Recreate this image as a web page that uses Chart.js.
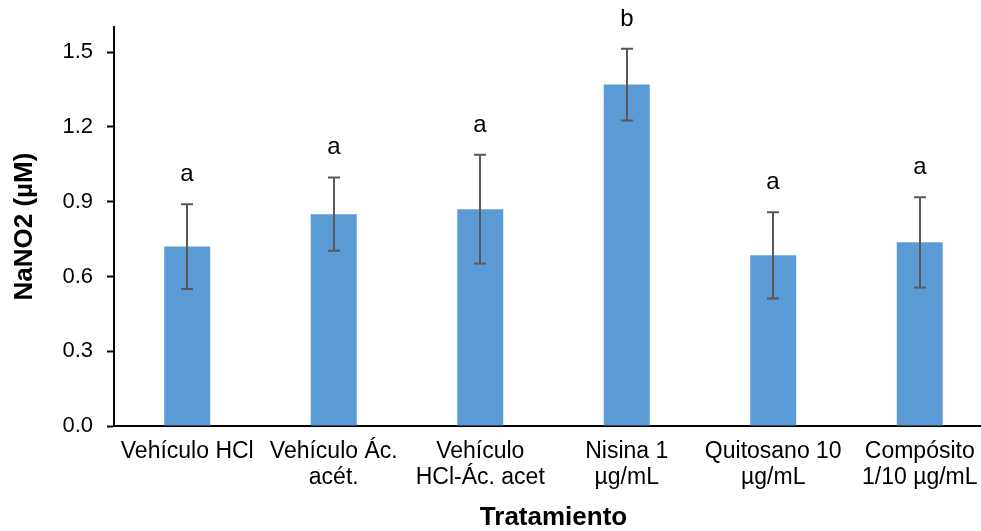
<!DOCTYPE html>
<html>
<head>
<meta charset="utf-8">
<script src="https://cdn.jsdelivr.net/npm/chart.js@4.4.1/dist/chart.umd.min.js"></script>
<style>
  html, body { margin: 0; padding: 0; background: #ffffff; overflow: hidden; width: 981px; height: 531px; }
  #wrap { position: absolute; left: 0; top: 0; width: 1000px; height: 531px; }
</style>
</head>
<body>
<div id="wrap"><canvas id="c" width="1000" height="531"></canvas></div>
<script>
const categories = [
  ['Vehículo HCl'],
  ['Vehículo Ác.', 'acét.'],
  ['Vehículo', 'HCl-Ác. acet'],
  ['Nisina 1', 'µg/mL'],
  ['Quitosano 10', 'µg/mL'],
  ['Compósito', '1/10 µg/mL']
];
const values = [0.72, 0.85, 0.87, 1.37, 0.685, 0.737];
const errors = [0.17, 0.147, 0.218, 0.144, 0.173, 0.181];
const letters = ['a', 'a', 'a', 'b', 'a', 'a'];
const yTicks = [0, 0.3, 0.6, 0.9, 1.2, 1.5];

const FONT = '"Liberation Sans", Arial, sans-serif';

const errPlugin = {
  id: 'errBars',
  afterDatasetsDraw(chart) {
    const ctx = chart.ctx;
    const y = chart.scales.y;
    const meta = chart.getDatasetMeta(0);
    ctx.save();
    meta.data.forEach((bar, i) => {
      const cx = Math.round(bar.x);
      const top = y.getPixelForValue(values[i] + errors[i]);
      const bot = y.getPixelForValue(values[i] - errors[i]);
      ctx.strokeStyle = '#595959';
      ctx.lineWidth = 2;
      ctx.beginPath();
      ctx.moveTo(cx, top); ctx.lineTo(cx, bot);
      ctx.moveTo(cx - 6, top); ctx.lineTo(cx + 6, top);
      ctx.moveTo(cx - 6, bot); ctx.lineTo(cx + 6, bot);
      ctx.stroke();
      ctx.fillStyle = '#000000';
      ctx.font = '24px ' + FONT;
      ctx.textAlign = 'center';
      ctx.textBaseline = 'alphabetic';
      ctx.fillText(letters[i], cx, top - 23);
    });
    ctx.restore();
  }
};

new Chart(document.getElementById('c'), {
  type: 'bar',
  data: {
    labels: categories,
    datasets: [{
      data: values,
      backgroundColor: '#5B9BD5',
      borderWidth: 0,
      barPercentage: 0.314,
      categoryPercentage: 1.0
    }]
  },
  options: {
    responsive: false,
    animation: false,
    devicePixelRatio: 1,
    layout: { padding: { left: 0, right: 7, top: 25, bottom: 0 } },
    plugins: { legend: { display: false }, tooltip: { enabled: false } },
    scales: {
      x: {
        grid: { display: false, drawTicks: false },
        border: { display: true, color: '#000000', width: 2 },
        ticks: { color: '#000000', font: { family: FONT, size: 23, lineHeight: 1.13 }, padding: 13, maxRotation: 0, autoSkip: false },
        title: { display: true, text: 'Tratamiento', color: '#000000', font: { family: FONT, size: 26, weight: 'bold', lineHeight: 1 }, padding: { top: 0, bottom: 0 } },
        afterFit(scale) { scale.height = 105; }
      },
      y: {
        min: 0,
        max: 1.6,
        afterBuildTicks(axis) { axis.ticks = yTicks.map(v => ({ value: v })); },
        grid: { display: true, drawOnChartArea: false, drawTicks: true, tickLength: 7, color: '#000000', tickWidth: 2 },
        border: { display: true, color: '#000000', width: 2 },
        ticks: { color: '#000000', font: { family: FONT, size: 22 }, padding: 14, callback: v => Number(v).toFixed(1) },
        title: { display: true, text: 'NaNO2 (µM)', color: '#000000', font: { family: FONT, size: 26, weight: 'bold', lineHeight: 1 }, padding: { top: 12, bottom: 0 } },
        afterFit(scale) { scale.width = 114; }
      }
    }
  },
  plugins: [errPlugin]
});
</script>
</body>
</html>
